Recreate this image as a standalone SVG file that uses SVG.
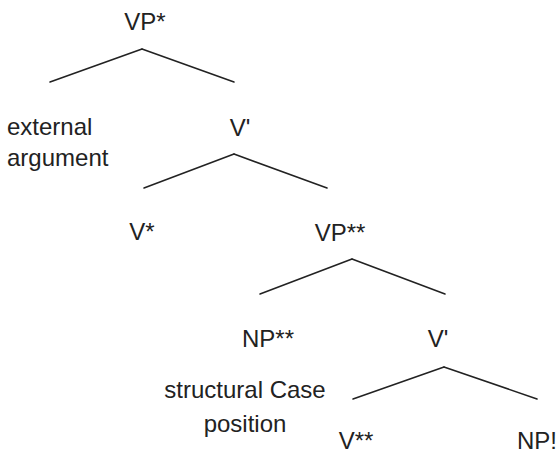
<svg xmlns="http://www.w3.org/2000/svg" width="560" height="454" viewBox="0 0 560 454">
<style>
text{font-family:"Liberation Sans",Arial,sans-serif;font-size:24px;fill:#222}
.c{text-anchor:middle}
.e line{stroke:#222;stroke-width:1.6;stroke-linecap:round}
</style>
<rect width="560" height="454" fill="#fff"/>
<g class="e" id="connectors">
<line x1="142" y1="49" x2="50" y2="82"/>
<line x1="142" y1="49" x2="234" y2="82"/>
<line x1="234" y1="154" x2="144" y2="188"/>
<line x1="234" y1="154" x2="327" y2="188"/>
<line x1="352" y1="259" x2="260" y2="294"/>
<line x1="352" y1="259" x2="445" y2="294"/>
<line x1="444" y1="367" x2="353" y2="399"/>
<line x1="444" y1="367" x2="537" y2="399"/>
</g>
<g id="vp1"><text class="c" x="145" y="30">VP*</text></g>
<g id="ext"><text x="7" y="135">external</text><text x="7" y="166">argument</text></g>
<g id="vbar1"><text class="c" x="240" y="136">V'</text></g>
<g id="v1"><text class="c" x="142" y="240">V*</text></g>
<g id="vp2"><text class="c" x="340" y="241">VP**</text></g>
<g id="np2"><text class="c" x="268" y="347">NP**</text></g>
<g id="vbar2"><text class="c" x="438" y="347">V'</text></g>
<g id="scp"><text class="c" x="245" y="398">structural Case</text><text class="c" x="245" y="432">position</text></g>
<g id="v2"><text class="c" x="356" y="449">V**</text></g>
<g id="np3"><text class="c" x="537" y="449">NP!</text></g>
</svg>
